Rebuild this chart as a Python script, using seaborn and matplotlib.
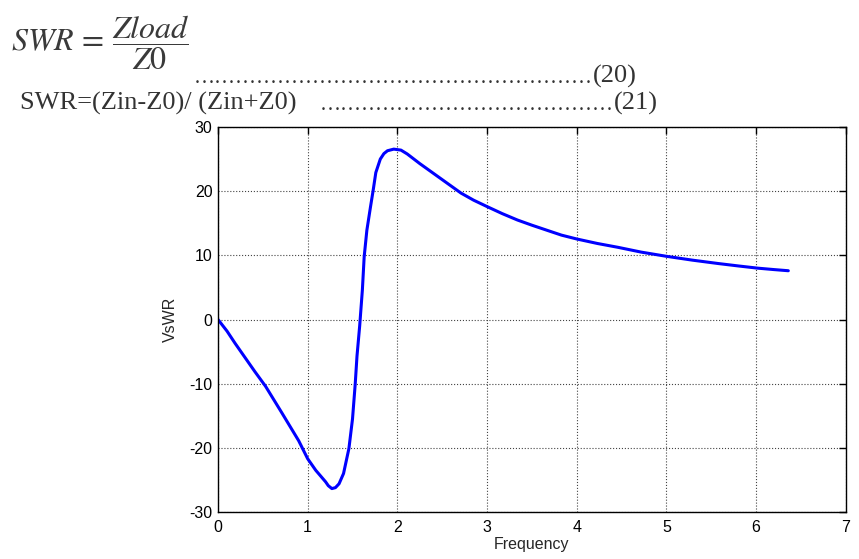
import matplotlib
matplotlib.use("Agg")
import matplotlib.pyplot as plt
import seaborn as sns

# VSWR response against frequency
freq = [0.0, 0.10, 0.19, 0.41, 0.53, 0.71, 0.90, 1.0, 1.09, 1.20, 1.23, 1.27,
        1.31, 1.35, 1.40, 1.46, 1.50, 1.53, 1.55, 1.58, 1.61, 1.63, 1.66, 1.70,
        1.73, 1.76, 1.81, 1.85, 1.89, 1.96, 2.04, 2.11, 2.25, 2.41, 2.59, 2.71,
        2.85, 3.0, 3.17, 3.34, 3.5, 3.67, 3.83, 4.0, 4.23, 4.46, 4.72, 5.0,
        5.29, 5.58, 5.8, 6.02, 6.2, 6.36]
vswr = [0.0, -1.8, -3.7, -8.1, -10.4, -14.5, -18.9, -21.7, -23.5, -25.3,
        -25.9, -26.35, -26.2, -25.6, -24.0, -20.1, -15.5, -10.1, -5.7, -1.0,
        4.6, 9.75, 13.9, 17.5, 20.1, 22.9, 25.0, 25.85, 26.3, 26.55, 26.4,
        25.8, 24.3, 22.7, 20.9, 19.7, 18.6, 17.6, 16.5, 15.5, 14.7, 13.9,
        13.15, 12.55, 11.85, 11.25, 10.5, 9.85, 9.25, 8.72, 8.35, 8.0, 7.78,
        7.6]
x_ticks = [0, 1, 2, 3, 4, 5, 6, 7]
y_ticks = [-30, -20, -10, 0, 10, 20, 30]

sns.set_style("white")
plt.rcParams["font.family"] = ["Liberation Sans", "DejaVu Sans"]
plt.rcParams["mathtext.fontset"] = "stix"
plt.rcParams["axes.unicode_minus"] = False

fig = plt.figure(figsize=(8.59, 5.59), dpi=100)
W, H = 859, 559
serif = ["Liberation Serif", "DejaVu Serif"]
ink = "#333333"

# equations above the plot
fig.text(11 / W, 1 - 43 / H, r"$SWR\,=\,\dfrac{Zload}{Z0}$", fontsize=23,
         color="#3a3a3a", va="center", ha="left")
fig.text(593 / W, 1 - 83 / H, "\u2026" * 19, fontsize=15, family=serif,
         color=ink, ha="right", va="baseline")
fig.text(593 / W, 1 - 83 / H, "(20)", fontsize=19, family=serif,
         color=ink, ha="left", va="baseline")
fig.text(20 / W, 1 - 110 / H, "SWR=(Zin-Z0)/ (Zin+Z0)", fontsize=19,
         family=serif, color=ink, ha="left", va="baseline")
fig.text(614 / W, 1 - 110 / H, "\u2026" * 14, fontsize=15, family=serif,
         color=ink, ha="right", va="baseline")
fig.text(614 / W, 1 - 110 / H, "(21)", fontsize=19, family=serif,
         color=ink, ha="left", va="baseline")

ax = fig.add_axes([218 / W, 1 - 512 / H, (845.7 - 218) / W, (512 - 127) / H])
sns.lineplot(x=freq, y=vswr, ax=ax, color="#0000ff", linewidth=2.2,
             sort=False, estimator=None)

ax.set_xlim(0, 7)
ax.set_ylim(-30, 30)
ax.set_xticks(x_ticks)
ax.set_yticks(y_ticks)
ax.grid(True, linestyle=":", color="#444444", linewidth=0.8)
ax.tick_params(direction="in", length=5, width=1, top=True, right=True,
               labelsize=11.5, colors="black")
ax.tick_params(axis="x", pad=6)
ax.tick_params(axis="y", pad=4)
for s in ax.spines.values():
    s.set_color("black")
    s.set_linewidth(1.0)
ax.set_xlabel("Frequency", fontsize=11.5, labelpad=1)
ax.set_ylabel("VsWR", fontsize=11.5, labelpad=8)

fig.savefig("out.png", dpi=100)
